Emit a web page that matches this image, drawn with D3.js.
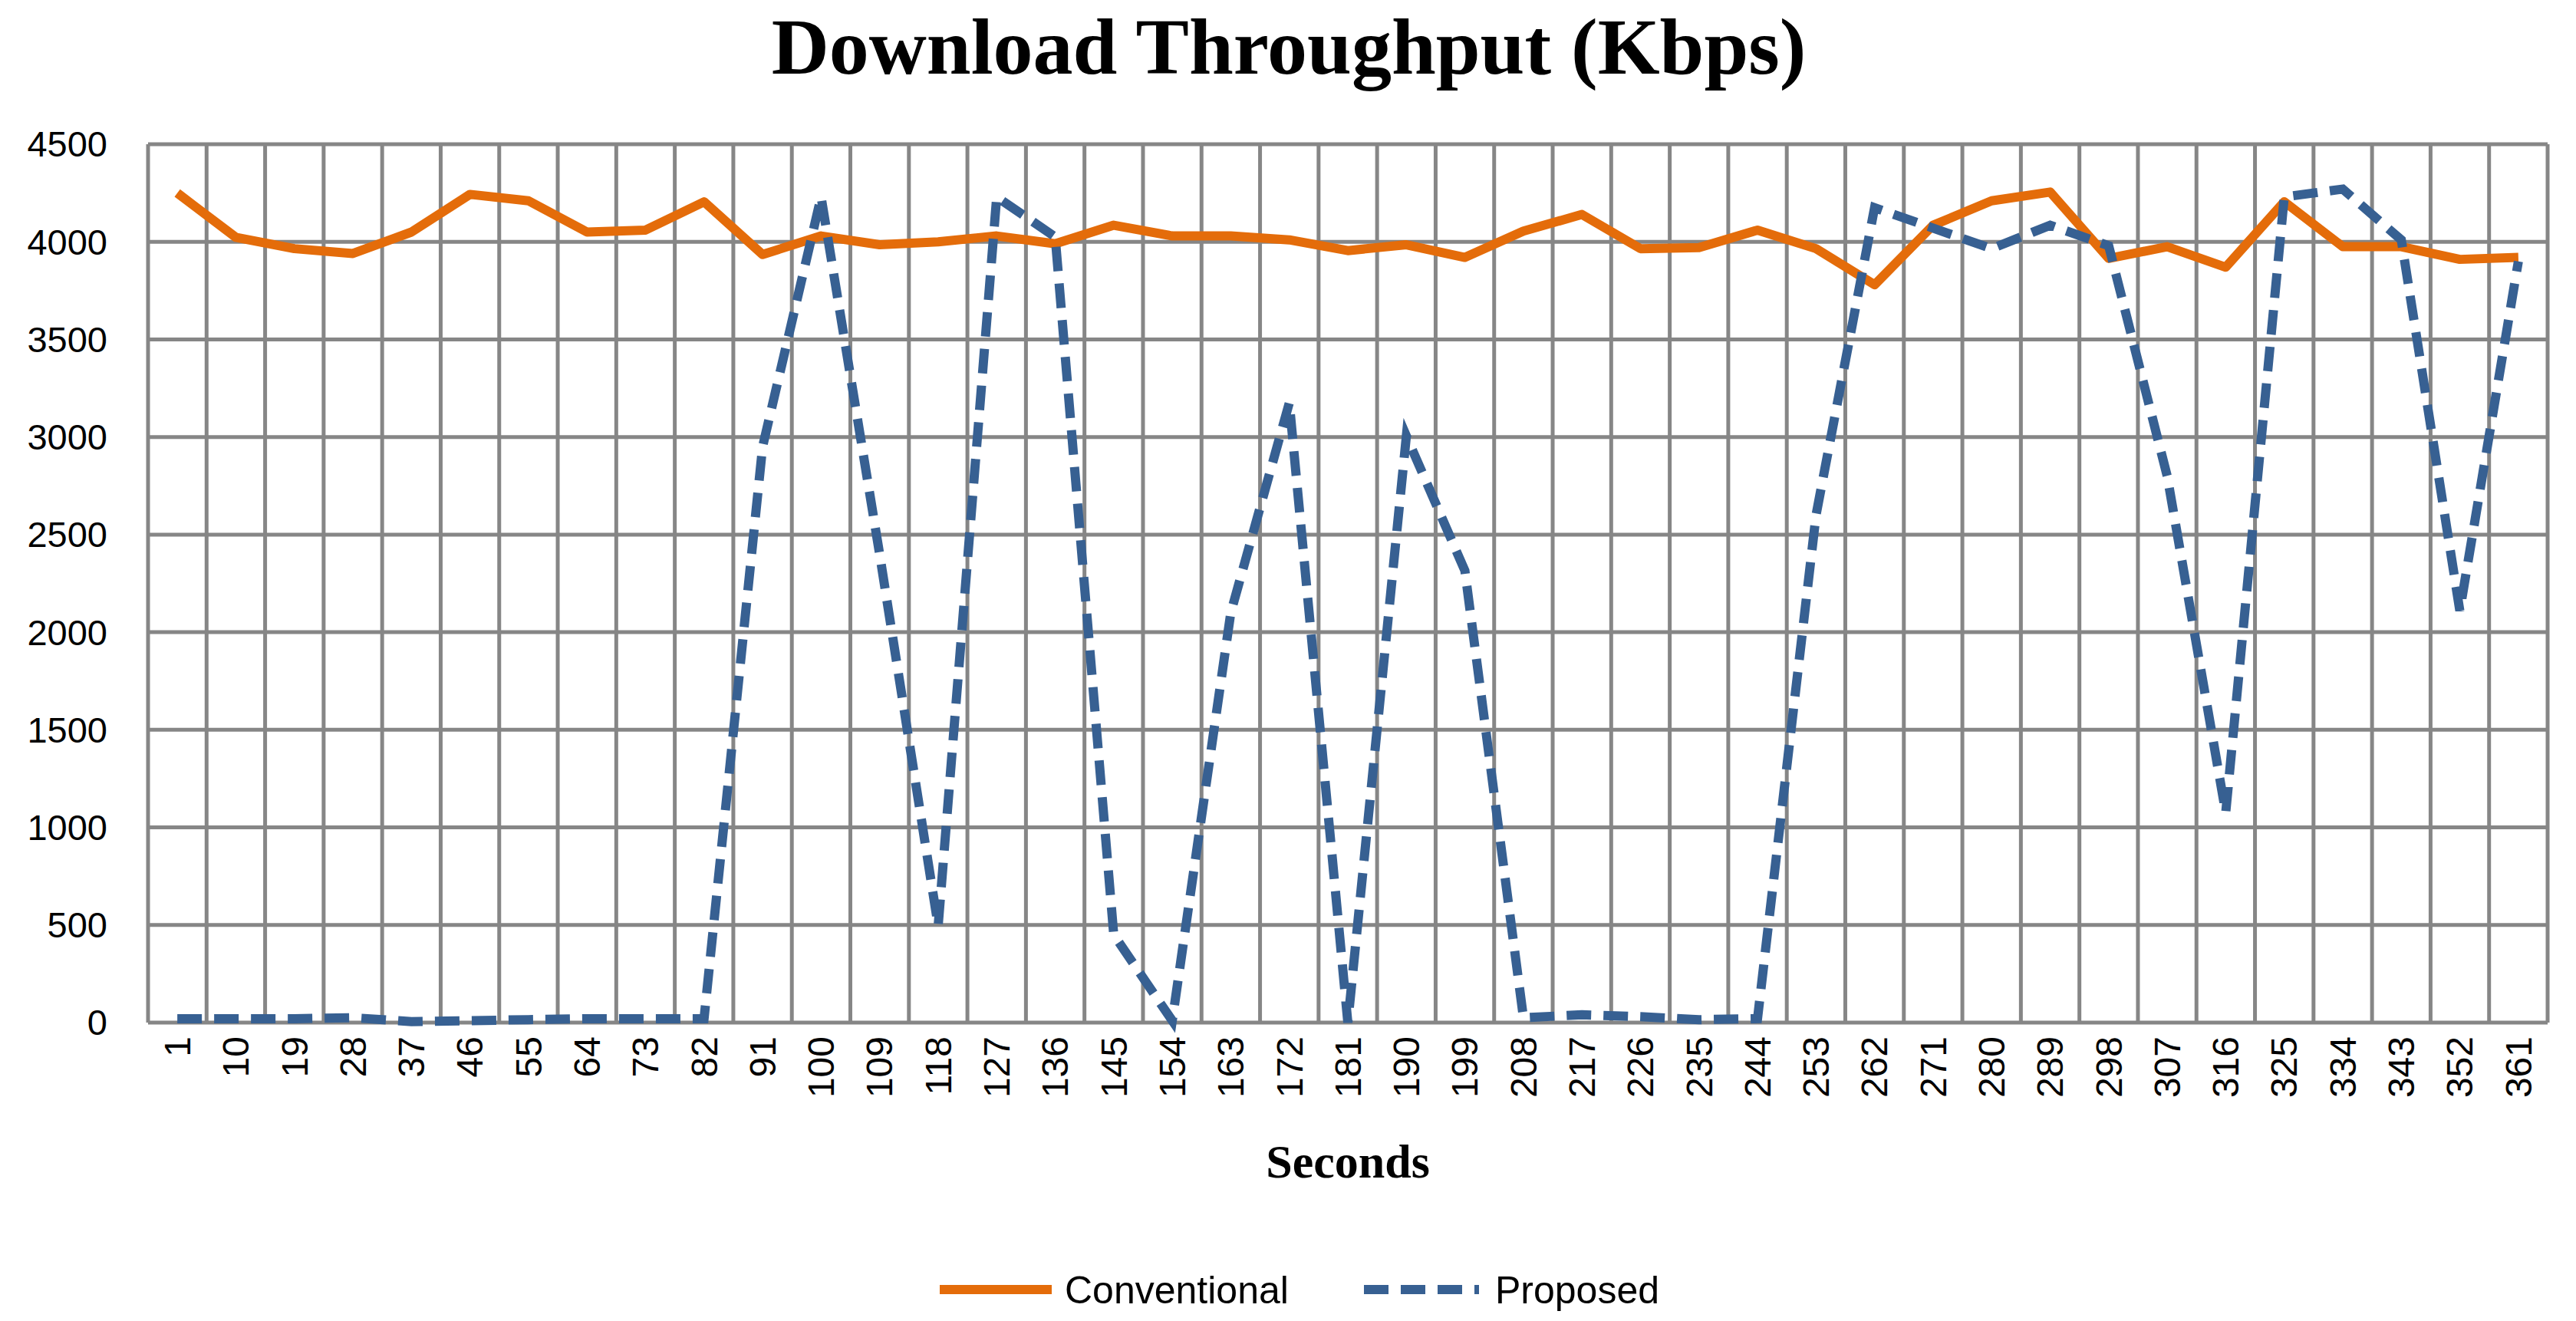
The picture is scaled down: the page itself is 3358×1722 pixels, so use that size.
<!DOCTYPE html><html><head><meta charset="utf-8">
<script src="https://cdn.jsdelivr.net/npm/d3@7"></script>
<style>body{margin:0;background:#fff}</style></head><body>
<svg id="c" width="3358" height="1722"></svg>
<script>
const categories = d3.range(41).map(i => String(1 + 9*i));
const conventional = [4250,4023,3965,3940,4050,4243,4210,4050,4060,4205,3935,4030,3985,4000,4030,3990,4085,4030,4030,4010,3955,3985,3920,4055,4140,3965,3970,4060,3965,3780,4085,4210,4255,3915,3975,3870,4205,3975,3975,3910,3920];
const proposed = [20,20,20,25,5,10,15,20,20,20,2950,4230,2400,495,4230,4025,450,10,2100,3175,0,3005,2315,25,40,30,15,20,2600,4175,4070,3965,4085,3980,2800,1075,4230,4270,4010,2110,3900];
const yTicks = [0,500,1000,1500,2000,2500,3000,3500,4000,4500];

const svg = d3.select("#c");
const L=193,R=3321,T=188,B=1333;
const x = d3.scaleBand().domain(categories).range([L,R]);
const y = d3.scaleLinear().domain([0,4500]).range([B,T]);
const grid="#868686";
svg.append("g").selectAll("line").data(yTicks).join("line")
  .attr("x1",L).attr("x2",R).attr("y1",d=>y(d)).attr("y2",d=>y(d)).attr("stroke",grid).attr("stroke-width",5);
svg.append("g").selectAll("line").data(categories.concat(["_end"])).join("line")
  .attr("x1",(d,i)=>L+i*x.step()).attr("x2",(d,i)=>L+i*x.step()).attr("y1",T).attr("y2",B).attr("stroke",grid).attr("stroke-width",5);
svg.append("g").selectAll("text").data(yTicks).join("text")
  .attr("x",140).attr("y",d=>y(d)).attr("dy","0.35em").attr("text-anchor","end")
  .attr("font-family","Liberation Sans, Arial").attr("font-size",47).attr("fill","#000").text(d=>d);
svg.append("g").selectAll("text").data(categories).join("text")
  .attr("transform",d=>`translate(${x(d)+x.bandwidth()/2},${B+18}) rotate(-90)`)
  .attr("dy","0.35em").attr("text-anchor","end")
  .attr("font-family","Liberation Sans, Arial").attr("font-size",48).attr("fill","#000").text(d=>d);
const line = d3.line().x((d,i)=>x(categories[i])+x.bandwidth()/2).y(d=>y(d));
svg.append("path").datum(conventional).attr("d",line).attr("fill","none").attr("stroke","#E46C0A").attr("stroke-width",12).attr("stroke-linejoin","round");
svg.append("path").datum(proposed).attr("d",line).attr("fill","none").attr("stroke","#376092").attr("stroke-width",12).attr("stroke-dasharray","32,16");
svg.append("text").attr("x",1680).attr("y",96).attr("text-anchor","middle")
  .attr("font-family","Liberation Serif, Times New Roman").attr("font-weight","bold").attr("font-size",104).text("Download Throughput (Kbps)");
svg.append("text").attr("x",1757).attr("y",1535).attr("text-anchor","middle")
  .attr("font-family","Liberation Serif, Times New Roman").attr("font-weight","bold").attr("font-size",62).text("Seconds");
const lg = svg.append("g");
lg.append("line").attr("x1",1225).attr("x2",1371).attr("y1",1681).attr("y2",1681).attr("stroke","#E46C0A").attr("stroke-width",12);
lg.append("text").attr("x",1388).attr("y",1681).attr("dy","0.35em").attr("font-family","Liberation Sans, Arial").attr("font-size",50).text("Conventional");
lg.append("line").attr("x1",1778).attr("x2",1928).attr("y1",1681).attr("y2",1681).attr("stroke","#376092").attr("stroke-width",12).attr("stroke-dasharray","32,16");
lg.append("text").attr("x",1949).attr("y",1681).attr("dy","0.35em").attr("font-family","Liberation Sans, Arial").attr("font-size",50).text("Proposed");
</script></body></html>
